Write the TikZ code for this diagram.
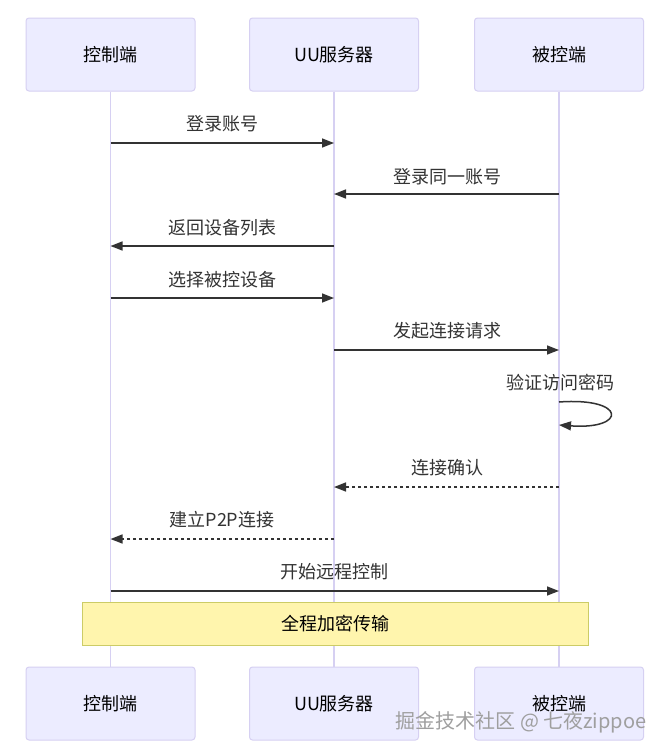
\documentclass[tikz,border=0pt]{standalone}
\usepackage{fontspec}
\setmainfont{Noto Sans CJK SC}
\usetikzlibrary{arrows.meta}
\definecolor{actorfill}{HTML}{ECECFF}
\definecolor{actorline}{HTML}{D6D0F2}
\definecolor{notefill}{HTML}{FFF5AD}
\definecolor{noteline}{HTML}{CCCC66}
\definecolor{msgcol}{HTML}{333333}
\tikzset{
  actor/.style={draw=actorline, fill=actorfill, line width=1pt, rounded corners=3pt,
    minimum width=169pt, minimum height=73pt, inner sep=0pt, font=\fontsize{18}{20}\selectfont},
  lifeline/.style={draw=actorline, line width=1.5pt},
  msg/.style={draw=msgcol, line width=1.5pt, -{Triangle[length=12pt,width=9pt]}},
  reply/.style={msg, dash pattern=on 3pt off 3pt},
  msglabel/.style={text=msgcol, inner sep=0pt, font=\fontsize{18}{20}\selectfont},
  note/.style={draw=noteline, fill=notefill, line width=1pt, minimum width=506pt,
    minimum height=43pt, inner sep=0pt, font=\fontsize{18}{20}\selectfont}
}
\begin{document}
\begin{tikzpicture}[x=1pt, y=-1pt]
		%%%%% START %%%%%
		\useasboundingbox[fill=white] (0, 0) rectangle (670, 755);
		
		% actors, top and bottom
		\node[actor] (ctlT) at (110.5, 54.5) {控制端};
		\node[actor] (srvT) at (334, 54.5) {UU服务器};
		\node[actor] (devT) at (559, 54.5) {被控端};
		\node[actor] (ctlB) at (110.5, 703.5) {控制端};
		\node[actor] (srvB) at (334, 703.5) {UU服务器};
		\node[actor] (devB) at (559, 703.5) {被控端};
		
		\draw[lifeline] (ctlT) -- (ctlB);
		\draw[lifeline] (srvT) -- (srvB);
		\draw[lifeline] (devT) -- (devB);
		
		% message rows
		\foreach \r/\y in {1/143, 2/194, 3/246, 4/298, 5/350, 6/402, 7/487, 8/539, 9/591}
			\coordinate (r\r) at (0, \y);
		
		\draw[msg] (ctlT |- r1) -- (srvT |- r1);
		\node[msglabel] (l1) at (222, 124) {登录账号};
		
		\draw[msg] (devT |- r2) -- (srvT |- r2);
		\node[msglabel] (l2) at (447, 177) {登录同一账号};
		
		\draw[msg] (srvT |- r3) -- (ctlT |- r3);
		\node[msglabel] (l3) at (222, 228) {返回设备列表};
		
		\draw[msg] (ctlT |- r4) -- (srvT |- r4);
		\node[msglabel] (l4) at (222, 280) {选择被控设备};
		
		\draw[msg] (srvT |- r5) -- (devT |- r5);
		\node[msglabel] (l5) at (447, 331) {发起连接请求};
		
		\coordinate (loopend) at (559, 425);
		\draw[msg] (devT |- r6) .. controls (627, 397) and (627, 430) .. (loopend);
		\node[msglabel] (l6) at (560, 383) {验证访问密码};
		
		\draw[reply] (devT |- r7) -- (srvT |- r7);
		\node[msglabel] (l7) at (447, 468) {连接确认};
		
		\draw[reply] (srvT |- r8) -- (ctlT |- r8);
		\node[msglabel] (l8) at (222, 520) {建立P2P连接};
		
		\draw[msg] (ctlT |- r9) -- (devT |- r9);
		\node[msglabel] (l9) at (334.5, 572) {开始远程控制};
		
		\node[note] (enc) at (335, 623.5) {全程加密传输};
		
		\node[text=gray!75, font=\fontsize{20}{22}\selectfont, inner sep=0pt] (wm) at (521, 722) {掘金技术社区 @ 七夜zippoe};
		%%%%% END %%%%%
	\end{tikzpicture}
\end{document}
